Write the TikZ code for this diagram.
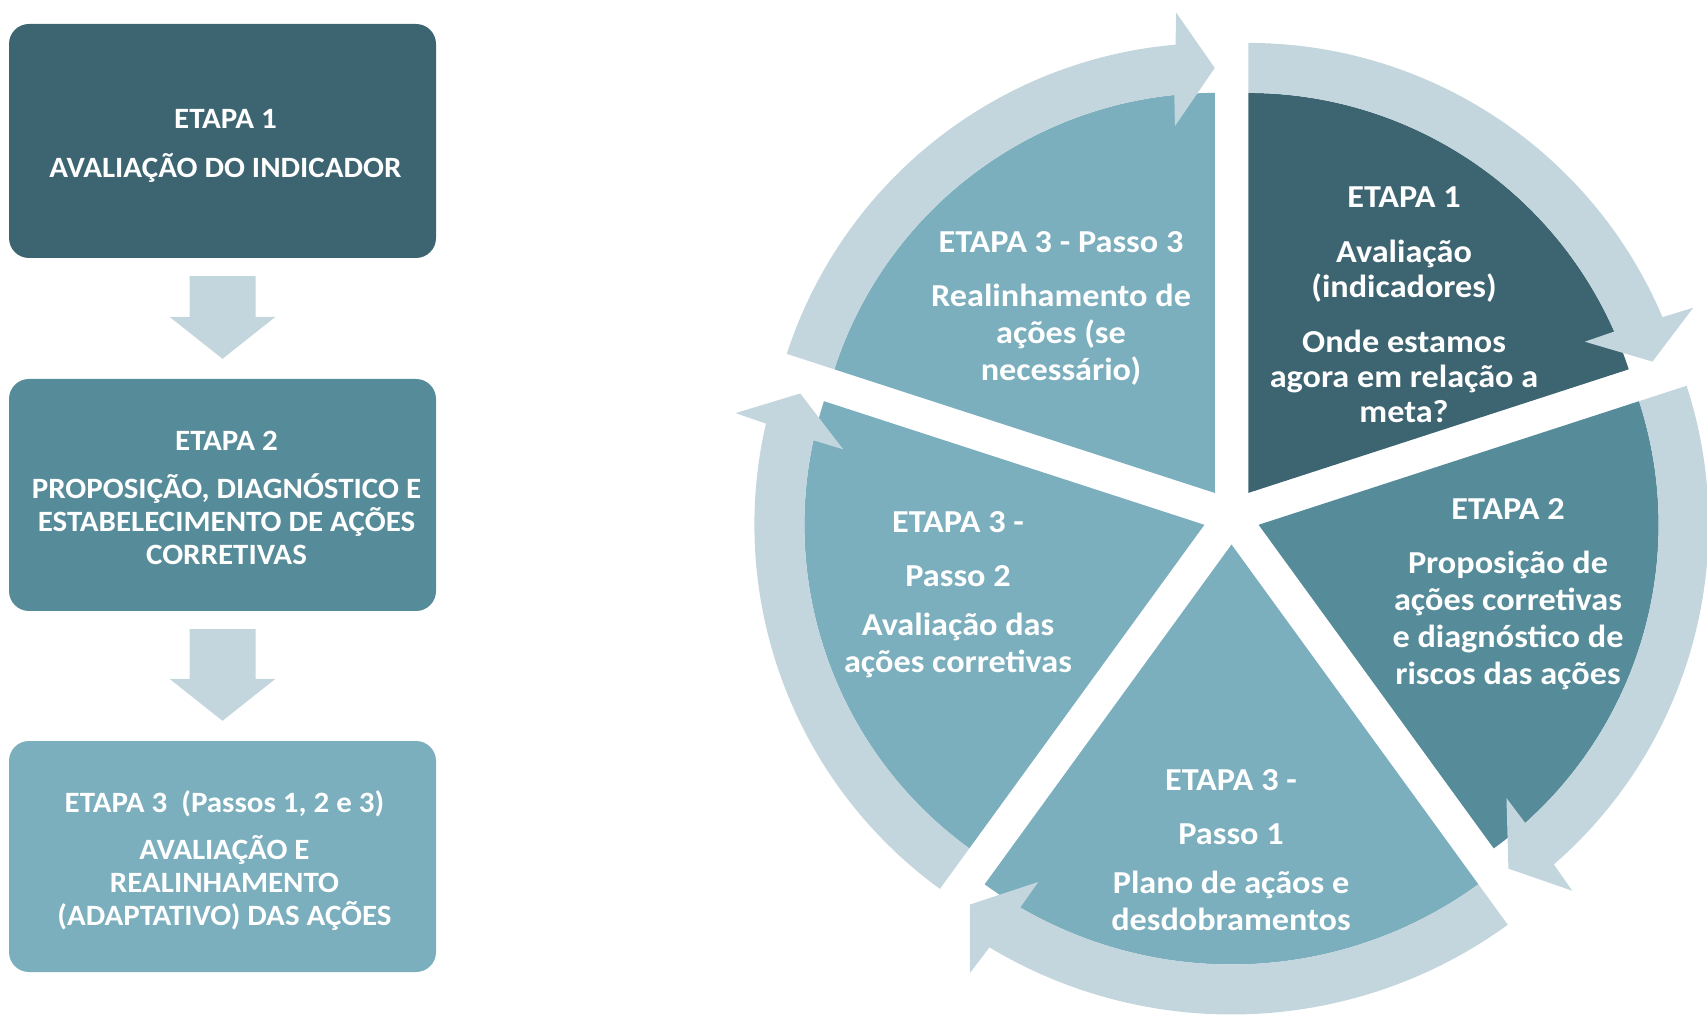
\documentclass[tikz,border=0pt]{standalone}
\usepackage{fontspec}
\setmainfont{Carlito}
\newfontfamily\boxfont{Carlito}[FakeStretch=1.05]
\newfontfamily\ringfont{Carlito}[FakeStretch=1.07]
\usetikzlibrary{positioning,calc}

\definecolor{tealdark}{HTML}{3C6571}
\definecolor{tealmid}{HTML}{568C99}
\definecolor{teallight}{HTML}{7BAFBE}
\definecolor{tealpale}{HTML}{C4D6DD}

\begin{document}
\begin{tikzpicture}[x=1pt,y=1pt,
  box/.style={rounded corners=20pt,minimum width=427pt,minimum height=232pt},
  boxtext/.style={text=white,align=center,font=\boxfont\fontsize{29.5}{33}\selectfont\bfseries},
  lbl/.style={text=white,align=center,font=\ringfont\fontsize{32}{37}\selectfont\bfseries},
  flow/.style={fill=tealpale}]

  \useasboundingbox (0,0) rectangle (1707,1018);

  % left column
  \node[box,fill=tealdark,minimum height=234pt] (b1) at (222.5,877) {};
  \node[box,fill=tealmid] (b2) at (222.5,523) {};
  \node[box,fill=teallight,minimum height=231pt] (b3) at (222.5,161.5) {};

  \node[boxtext] (b1t) at ([xshift=3,yshift=-4.5]b1.center)
    {ETAPA 1\\[16pt]AVALIAÇÃO DO INDICADOR};
  \node[boxtext] (b2t) at ([xshift=4,yshift=-2.5]b2.center)
    {ETAPA 2\\[15pt]PROPOSIÇÃO, DIAGNÓSTICO E\\ESTABELECIMENTO DE AÇÕES\\CORRETIVAS};
  \node[boxtext] (b3t) at ([xshift=2,yshift=-4.5]b3.center)
    {ETAPA 3~~(Passos 1, 2 e 3)\\[14pt]AVALIAÇÃO E\\REALINHAMENTO\\(ADAPTATIVO) DAS AÇÕES};

  \foreach \a/\b in {b1/b2,b2/b3}
    \fill[flow] let \p1=(\a.south), \p2=(\b.north) in
      (\x1-33,\y1-18) -- (\x1+33,\y1-18) -- (\x1+33,\y2+62) -- (\x1+53,\y2+62)
      -- (\x1,\y2+20) -- (\x1-53,\y2+62) -- (\x1-33,\y2+62) -- cycle;

  % cycle
  \coordinate (c) at (1231.5,502);
  \foreach \lo/\hi/\col/\ri/\ro in {18/90/tealdark/400/450,-54/18/tealmid/400/450,
      -126/-54/teallight/420/470,162/234/teallight/400/450,90/162/teallight/400/450} {
    \begin{scope}[shift={($(c)+({(\lo+\hi)/2}:28.5)$)}]
      \fill[\col] (0,0) -- (\lo:\ri) arc[start angle=\lo,end angle=\hi,radius=\ri] -- cycle;
      \fill[flow] (\hi:\ro) arc[start angle=\hi,end angle=\lo+5,radius=\ro]
        -- ({\lo+4.6}:{\ro+32}) -- (\lo:{(\ri+\ro)/2}) -- ({\lo+6.2}:{\ri-31})
        -- ({\lo+5.8}:\ri) arc[start angle=\lo+5.8,end angle=\hi,radius=\ri] -- cycle;
    \end{scope}
  }

  \node[lbl,font=\ringfont\fontsize{32}{35}\selectfont\bfseries] (e1) at (1404,713)
    {ETAPA 1\\[20pt]Avaliação\\(indicadores)\\[20pt]Onde estamos\\agora em relação a\\meta?};
  \node[lbl] (e2) at (1508,424)
    {ETAPA 2\\[17pt]Proposição de\\ações corretivas\\e diagnóstico de\\riscos das ações};
  \node[lbl] (p1) at (1231,168)
    {ETAPA 3 -\\[17pt]Passo 1\\[12pt]Plano de açãos e\\desdobramentos};
  \node[lbl] (p2) at (958,423)
    {ETAPA 3 -\\[17pt]Passo 2\\[12pt]Avaliação das\\ações corretivas};
  \node[lbl] (p3) at (1061,709.5)
    {ETAPA 3 - Passo 3\\[17pt]Realinhamento de\\ações (se\\necessário)};
\end{tikzpicture}
\end{document}
